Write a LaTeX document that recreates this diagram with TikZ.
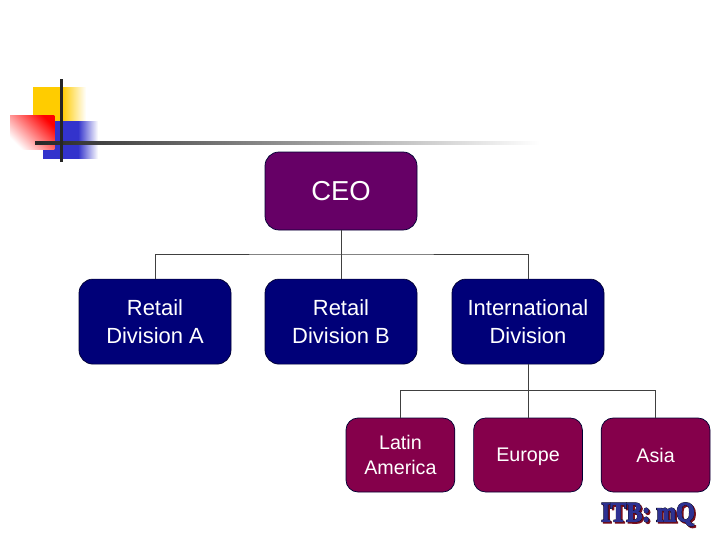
\documentclass[tikz,border=0pt]{standalone}
\usepackage{fontspec}
\setmainfont{Liberation Sans}
\newfontfamily\logofont[FakeBold=3,FakeStretch=0.85]{Liberation Serif Bold}
\newfontfamily\logoedge[FakeBold=5,FakeStretch=0.85]{Liberation Serif Bold}
\definecolor{ceopurple}{HTML}{660066}
\definecolor{divnavy}{HTML}{000078}
\definecolor{regionred}{HTML}{85004B}
\definecolor{logoblue}{HTML}{2E3192}
\definecolor{logored}{HTML}{7A1020}
\definecolor{gold}{HTML}{FFCC00}
\definecolor{ornblue}{HTML}{3333CC}
\begin{document}
\begin{tikzpicture}[
  box/.style={draw=black!80!blue, line width=0.5pt, rounded corners=0.35cm, align=center, text=white, minimum width=3.8cm, minimum height=2.125cm, font=\fontsize{15.6}{19.5}\selectfont},
  smallbox/.style={box, rounded corners=0.3cm, fill=regionred, minimum width=2.72cm, minimum height=1.85cm, font=\fontsize{14}{18}\selectfont},
  link/.style={draw=black!75, line width=0.6pt},
  logotext/.style={inner sep=0, font=\fontsize{20}{20}\selectfont}
]
  \useasboundingbox (0,0) rectangle (18.2,-13.65);

  % Corner ornament
  \fill[gold] (0.825,-2.175) rectangle (1.55,-3.03);
  \shade[left color=gold, right color=white] (1.55,-2.175) rectangle (2.15,-3.03);
  \fill[ornblue] (1.075,-3.03) rectangle (1.95,-3.97);
  \shade[left color=ornblue, right color=white] (1.95,-3.03) rectangle (2.45,-3.97);
  \shade[bottom color=white, top color=red, shading angle=-45] (0.25,-2.88) rectangle (1.36,-3.73);
  \shade[left color=black!85, right color=white] (0.875,-3.54) rectangle (13.5,-3.61);
  \fill[black!85] (1.5,-1.97) rectangle (1.57,-4.05);

  % CEO
  \node[box, fill=ceopurple, minimum height=1.95cm, font=\fontsize{19.5}{24}\selectfont] (ceo) at (8.525,-4.775) {CEO};

  % Divisions
  \node[box, fill=divnavy] (retaila) at (3.875,-8.04) {Retail\\Division A};
  \node[box, fill=divnavy] (retailb) at (8.525,-8.04) {Retail\\Division B};
  \node[box, fill=divnavy] (intl) at (13.2,-8.04) {International\\Division};

  % Regions
  \node[smallbox] (latin) at (10.01,-11.375) {Latin\\America};
  \node[smallbox, text depth=0pt] (europe) at (13.2,-11.375) {Europe};
  \node[smallbox, text depth=0pt] (asia) at (16.39,-11.375) {Asia};

  % Connectors
  \coordinate (topbus) at (8.525,-6.35);
  \coordinate (lowbus) at (13.2,-9.77);
  \draw[link] (ceo) -- (retailb);
  \draw[link] (retaila.north) |- (topbus) -| (intl.north);
  \draw[link] (intl) -- (europe);
  \draw[link] (latin.north) |- (lowbus) -| (asia.north);

  % Logo text
  \node[logotext, text=logored] (logoshadow) at (16.24,-12.9) {\logoedge ITB: mQ};
  \node[logotext, text=black] (logoedge) at (16.2,-12.86) {\logoedge ITB: mQ};
  \node[logotext, text=logoblue] (logo) at (16.2,-12.86) {\logofont ITB: mQ};
\end{tikzpicture}
\end{document}
